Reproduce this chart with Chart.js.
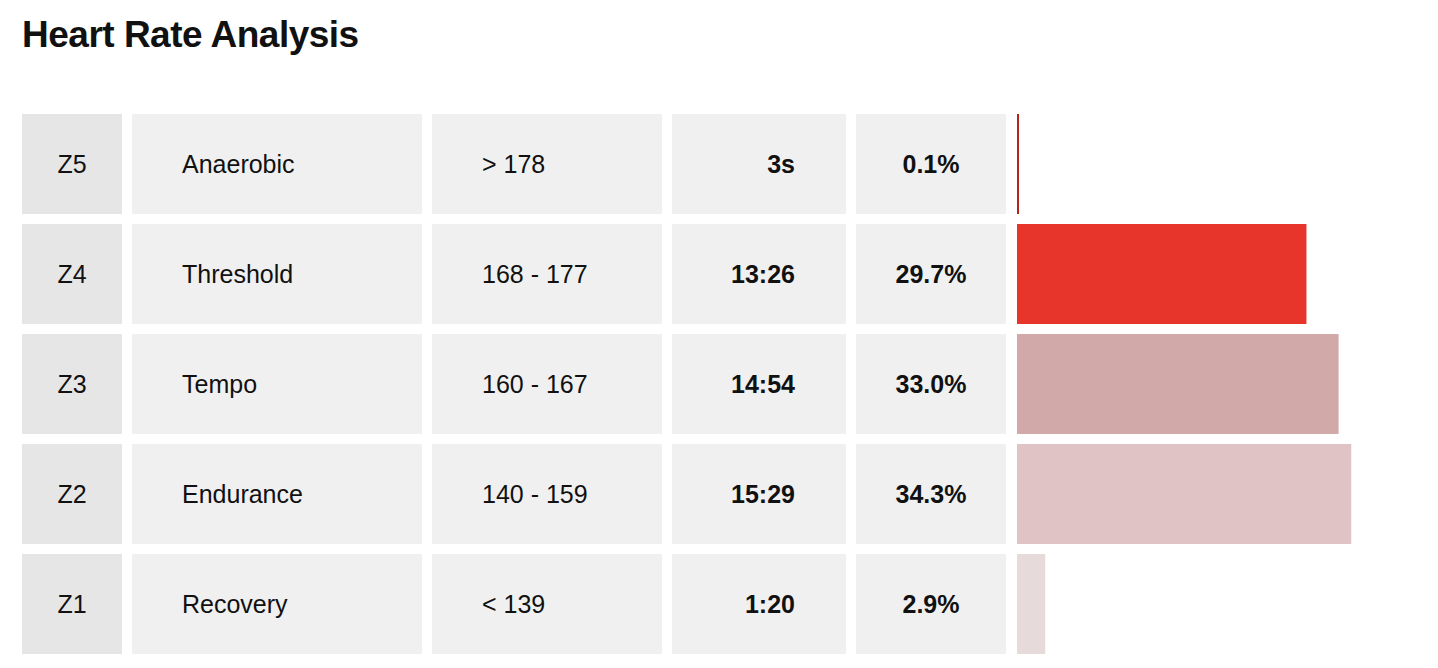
<!DOCTYPE html>
<html><head><meta charset="utf-8">
<script src="https://cdn.jsdelivr.net/npm/chart.js@4"></script>
<style>
body{margin:0;background:#fff;font-family:"Liberation Sans",Arial,sans-serif;color:#111;}
h1{position:absolute;left:22px;top:14px;margin:0;font-size:37px;font-weight:bold;letter-spacing:-0.5px}
.c{position:absolute;height:100px;line-height:100px;font-size:25px;background:#f0f0f0;box-sizing:border-box}
#wrap{position:absolute;left:1017px;top:109px;width:421px;height:550px}
</style></head><body>
<h1>Heart Rate Analysis</h1>
<div id="tbl"></div>
<div id="wrap"><canvas id="ch"></canvas></div>
<script>
const zones=["Z5","Z4","Z3","Z2","Z1"];
const names=["Anaerobic","Threshold","Tempo","Endurance","Recovery"];
const ranges=["> 178","168 - 177","160 - 167","140 - 159","< 139"];
const times=["3s","13:26","14:54","15:29","1:20"];
const percents=[0.1,29.7,33.0,34.3,2.9];
const colors=["#b8221c","#e8352b","#d2a9a9","#e0c3c4","#e6dada"];
const tbl=document.getElementById('tbl');
zones.forEach((z,i)=>{
  const top=114+i*110;
  const cells=[
    [22,100,z,'center','normal','#e6e6e6',0],
    [132,290,names[i],'left','normal','#f0f0f0',50],
    [432,230,ranges[i],'left','normal','#f0f0f0',50],
    [672,174,times[i],'right','bold','#f0f0f0',51],
    [856,150,percents[i].toFixed(1)+'%','center','bold','#f0f0f0',0]];
  cells.forEach(([l,w,t,a,fw,bg,p])=>{
    const d=document.createElement('div');d.className='c';
    d.style.cssText=`left:${l}px;top:${top}px;width:${w}px;text-align:${a};font-weight:${fw};background:${bg};${a==='left'?'padding-left:'+p+'px':''}${a==='right'?'padding-right:'+p+'px':''}`;
    d.textContent=t;tbl.appendChild(d);
  });
});
new Chart(document.getElementById('ch'),{type:'bar',
 data:{labels:zones,datasets:[{data:percents,backgroundColor:colors,barPercentage:1,categoryPercentage:100/110,minBarLength:2}]},
 options:{indexAxis:'y',responsive:true,maintainAspectRatio:false,animation:false,
  layout:{padding:0},
  plugins:{legend:{display:false},tooltip:{enabled:false}},
  scales:{x:{display:false,min:0,max:43.2},y:{display:false}}}});
</script></body></html>
